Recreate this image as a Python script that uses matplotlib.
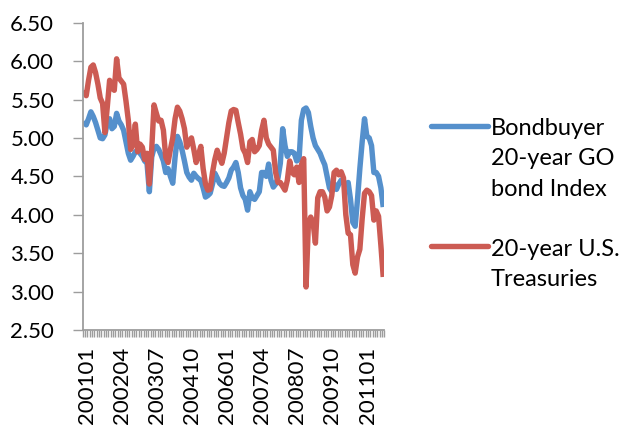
import numpy as np
import matplotlib
matplotlib.use("Agg")
import matplotlib.pyplot as plt
import matplotlib.transforms as mtransforms

plt.rcParams['font.family'] = ['Lato', 'DejaVu Sans']

# monthly categories 2001-01 .. 2011-09
months = [f"{2001 + k // 12}{k % 12 + 1:02d}" for k in range(129)]
tick_labels = ['200101', '200204', '200307', '200410', '200601',
               '200704', '200807', '200910', '201101']

series_names = ['Bondbuyer\n20-year GO\nbond Index', '20-year U.S.\nTreasuries']

bondbuyer = [
    5.22, 5.17, 5.25, 5.34, 5.28, 5.20, 5.10, 5.00, 4.99, 5.04, 5.20, 5.25,
    5.12, 5.15, 5.32, 5.22, 5.17, 5.10, 4.95, 4.80, 4.71, 4.76, 4.82, 4.84,
    4.80, 4.76, 4.70, 4.67, 4.30, 4.75, 4.87, 4.89, 4.85, 4.78, 4.70, 4.55,
    4.60, 4.50, 4.41, 4.75, 5.02, 4.95, 4.84, 4.70, 4.55, 4.49, 4.45, 4.54,
    4.50, 4.47, 4.45, 4.35, 4.23, 4.25, 4.28, 4.40, 4.54, 4.48, 4.41, 4.38,
    4.37, 4.42, 4.48, 4.58, 4.62, 4.68, 4.55, 4.35, 4.25, 4.20, 4.06, 4.30,
    4.22, 4.20, 4.25, 4.30, 4.55, 4.55, 4.50, 4.66, 4.45, 4.36, 4.40, 4.48,
    4.67, 5.12, 4.90, 4.76, 4.82, 4.82, 4.80, 4.70, 4.72, 5.23, 5.37, 5.39,
    5.33, 5.15, 5.00, 4.90, 4.85, 4.80, 4.72, 4.65, 4.50, 4.35, 4.30, 4.40,
    4.33, 4.40, 4.45, 4.42, 4.40, 4.42, 4.20, 3.90, 3.85, 4.20, 4.60, 4.95,
    5.25, 5.02, 5.00, 4.90, 4.55, 4.55, 4.50, 4.35, 4.10]

treasury = [
    5.62, 5.55, 5.75, 5.92, 5.95, 5.85, 5.70, 5.52, 5.45, 5.07, 5.40, 5.75,
    5.65, 5.62, 6.03, 5.78, 5.74, 5.70, 5.48, 5.23, 4.85, 4.92, 5.18, 4.82,
    4.92, 4.88, 4.72, 4.80, 4.40, 4.85, 5.43, 5.32, 5.22, 5.23, 5.10, 4.75,
    4.68, 4.85, 5.00, 5.25, 5.40, 5.35, 5.25, 5.12, 4.88, 4.95, 5.00, 4.85,
    4.68, 4.78, 4.89, 4.60, 4.40, 4.32, 4.33, 4.55, 4.72, 4.84, 4.75, 4.67,
    4.80, 5.00, 5.20, 5.35, 5.37, 5.36, 5.20, 5.05, 4.86, 4.80, 4.68, 4.95,
    4.98, 4.82, 4.85, 4.90, 5.10, 5.23, 5.00, 4.92, 4.88, 4.84, 4.55, 4.42,
    4.42, 4.37, 4.32, 4.45, 4.70, 4.55, 4.52, 4.62, 4.42, 4.65, 4.73, 3.06,
    3.88, 3.97, 3.90, 3.63, 4.22, 4.30, 4.30, 4.23, 4.05, 4.10, 4.25, 4.55,
    4.58, 4.52, 4.56, 4.48, 4.00, 3.76, 3.74, 3.35, 3.24, 3.45, 3.55, 3.95,
    4.28, 4.32, 4.30, 4.25, 3.93, 4.05, 3.98, 3.60, 3.19]

colors = ['#5590CC', '#CC5B53']
axis_grey = '#9D9D9D'
fs = 16
leg_fs = 17

fig = plt.figure(figsize=(6.2, 4.26), dpi=100)
ax = fig.add_axes([0.1334, 0.2254, 0.620 - 0.1334, 0.9467 - 0.2254])

x = np.arange(len(months))
lines = []
for vals, c, name in zip([bondbuyer, treasury], colors, series_names):
    ln, = ax.plot(x, vals, color=c, lw=3.9, solid_joinstyle='round',
                  solid_capstyle='butt', label=name)
    lines.append(ln)

ax.set_xlim(-0.5, len(months) - 0.5)
ax.set_ylim(2.5, 6.5)
ax.set_yticks(np.arange(2.5, 6.51, 0.5))
ax.set_yticklabels([f"{v:.2f}" for v in np.arange(2.5, 6.51, 0.5)], fontsize=fs)

# category boundary tick marks, labels on selected categories
ax.set_xticks(np.arange(len(months) + 1) - 0.5)
ax.set_xticklabels([])
label_pos = [months.index(t) for t in tick_labels]
ax.set_xticks(label_pos, minor=True)
ax.set_xticklabels(tick_labels, minor=True, rotation=90, fontsize=fs)
ax.tick_params(axis='x', which='major', length=5, width=1.0, color=axis_grey,
               direction='out')
ax.tick_params(axis='x', which='minor', length=0, pad=12)
ax.tick_params(axis='y', length=7.5, width=1.0, color=axis_grey, pad=13)

offset = mtransforms.ScaledTranslation(3 / 100, 0, fig.dpi_scale_trans)
for lab in ax.xaxis.get_minorticklabels():
    lab.set_transform(lab.get_transform() + offset)

for s in ['top', 'right']:
    ax.spines[s].set_visible(False)
for s in ['left', 'bottom']:
    ax.spines[s].set_color(axis_grey)
    ax.spines[s].set_linewidth(1.3)

leg = fig.legend(handles=lines, labels=series_names, loc='upper left',
                 bbox_to_anchor=(0.695, 1 - 118 / 426), frameon=False,
                 borderpad=0, borderaxespad=0, handlelength=2.4,
                 handletextpad=0.15, labelspacing=1.65, fontsize=leg_fs)
for t in leg.get_texts():
    t.set_linespacing(1.55)
for ln in leg.get_lines():
    ln.set_linewidth(3.9)
    ln.set_solid_capstyle('round')

# align each handle with the first line of its (multi-line) label
for col in leg._legend_handle_box.get_children():
    for item in col.get_children():
        for ch in item.get_children():
            if hasattr(ch, '_multilinebaseline'):
                ch._multilinebaseline = False

fig.canvas.draw()
renderer = fig.canvas.get_renderer()
texts = leg.get_texts()
nlines = [t.get_text().count('\n') + 1 for t in texts]
heights = [t.get_window_extent(renderer).height for t in texts]
pitch_px = (heights[0] - heights[1]) / (nlines[0] - nlines[1])
for ln, t, n in zip(leg.get_lines(), texts, nlines):
    bb_text = t.get_window_extent(renderer)
    y_line = ln.get_window_extent(renderer)
    y_center = 0.5 * (y_line.y0 + y_line.y1)
    target = bb_text.y1 - 0.25 * pitch_px
    shift_pt = (target - y_center) * 72.0 / fig.dpi
    ln.set_ydata(np.asarray(ln.get_ydata()) + shift_pt)

fig.savefig('out.png', dpi=100)
